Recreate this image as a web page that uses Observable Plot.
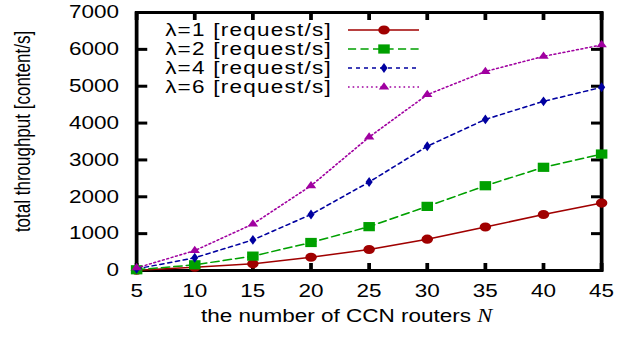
<!DOCTYPE html>
<html><head><meta charset="utf-8">
<script src="https://cdn.jsdelivr.net/npm/d3@7"></script>
<script src="https://cdn.jsdelivr.net/npm/@observablehq/plot@0.6"></script>
<style>html,body{margin:0;padding:0;background:#fff;} #chart svg{display:block;}</style>
</head><body><div id="chart"></div>
<script>
// ---- data ----
const routers = [5, 10, 15, 20, 25, 30, 35, 40, 45];
const lambda1 = [10, 90, 180, 360, 570, 850, 1180, 1520, 1830];
const lambda2 = [20, 155, 390, 760, 1190, 1740, 2300, 2800, 3160];
const lambda4 = [45, 345, 830, 1520, 2400, 3370, 4100, 4590, 4970];
const lambda6 = [70, 540, 1260, 2300, 3620, 4770, 5400, 5810, 6120];
const seriesNames = ["λ=1 [request/s]", "λ=2 [request/s]", "λ=4 [request/s]", "λ=6 [request/s]"];
const xTicks = [5, 10, 15, 20, 25, 30, 35, 40, 45];
const yTicks = [0, 1000, 2000, 3000, 4000, 5000, 6000, 7000];
const xLabel = "the number of CCN routers ";
const xLabelVar = "N";
const yLabel = "total throughput [content/s]";

// ---- styles ----
const seriesValues = [lambda1, lambda2, lambda4, lambda6];
const seriesColors = ["#a00000", "#00a000", "#0000a0", "#a000a0"];
const seriesSymbols = ["circle", "square", "diamond", "triangle"];
const d3Symbols = [d3.symbolCircle, d3.symbolSquare, d3.symbolDiamond, d3.symbolTriangle];
const seriesR = [4.6, 5.2, 3.0, 3.1];
const seriesDash = [null, "6.5,3.5", "3.2,3.2", "1.3,2.4"];

const W = 618, H = 337, SX = 1.25, W0 = W / SX;
const FONT = "'Liberation Sans', Arial, Helvetica, sans-serif";

const data = seriesValues.map((vals, i) => vals.map((v, j) => ({n: routers[j], t: v, s: seriesNames[i]})));

const marks = [
  Plot.frame({stroke: "black", strokeWidth: 3}),
  Plot.axisX({ticks: xTicks, anchor: "top", frameAnchor: "bottom", tickSize: 8, text: null, label: null, strokeWidth: 3}),
  Plot.axisX({ticks: xTicks, anchor: "bottom", frameAnchor: "top", tickSize: 8, text: null, label: null, strokeWidth: 3}),
  Plot.axisY({ticks: yTicks, anchor: "right", frameAnchor: "left", tickSize: 8, text: null, label: null, strokeWidth: 3}),
  Plot.axisY({ticks: yTicks, anchor: "left", frameAnchor: "right", tickSize: 8, text: null, label: null, strokeWidth: 3}),
  Plot.axisX({ticks: xTicks, anchor: "bottom", tickSize: 0, tickPadding: 14, label: null, fill: "black", tickFormat: d => String(d)}),
  Plot.axisY({ticks: yTicks, anchor: "left", tickSize: 0, tickPadding: 14, label: null, fill: "black", tickFormat: d => String(d)}),
  Plot.text([xLabel + xLabelVar], {frameAnchor: "bottom", dy: 51, dx: -18, fontSize: 18, fill: "black", textAnchor: "middle"}),
  Plot.text([yLabel], {frameAnchor: "left", rotate: -90, dx: -91, dy: -10, fontSize: 17, fill: "black", textAnchor: "middle"})
];
data.forEach((d, i) => {
  marks.push(Plot.line(d, {x: "n", y: "t", stroke: seriesColors[i], strokeWidth: 1.5, strokeDasharray: seriesDash[i]}));
  marks.push(Plot.dot(d, {x: "n", y: "t", symbol: seriesSymbols[i], r: seriesR[i], fill: seriesColors[i], stroke: "none"}));
});

const svg = Plot.plot({
  width: W0, height: H,
  marginLeft: 108.8, marginRight: 13.6, marginTop: 12, marginBottom: 67,
  x: {domain: [5, 45], type: "linear"},
  y: {domain: [0, 7000], type: "linear"},
  style: {fontFamily: FONT, fontSize: "18px", color: "black", background: "white"},
  marks
});

// italic N in x label
d3.select(svg).selectAll("text").each(function() {
  if (this.textContent === xLabel + xLabelVar) {
    const t = d3.select(this);
    t.text(xLabel);
    t.append("tspan").attr("font-style", "italic").attr("font-family", "'Liberation Serif', 'Times New Roman', serif").text(xLabelVar);
  }
});

// legend (inside plot, top-left)
const lg = d3.select(svg).append("g").attr("font-family", FONT).attr("font-size", 18).attr("letter-spacing", 1);
seriesNames.forEach((name, i) => {
  const y = 30 + 19 * i;
  lg.append("text").attr("x", 265.6).attr("y", y).attr("dy", "0.35em").attr("text-anchor", "end").attr("fill", "black").text(name);
  lg.append("line").attr("x1", 278.4).attr("x2", 335.2).attr("y1", y).attr("y2", y)
    .attr("stroke", seriesColors[i]).attr("stroke-width", 1.5).attr("stroke-dasharray", seriesDash[i]);
  lg.append("path").attr("transform", `translate(307.2,${y})`)
    .attr("d", d3.symbol(d3Symbols[i], seriesR[i] * seriesR[i] * Math.PI)()).attr("fill", seriesColors[i]);
});

// horizontal stretch like the reference
svg.setAttribute("viewBox", `0 0 ${W0} ${H}`);
svg.setAttribute("preserveAspectRatio", "none");
svg.setAttribute("width", W);
svg.setAttribute("height", H);
svg.style.width = W + "px";
svg.style.height = H + "px";
svg.style.maxWidth = "none";
document.getElementById("chart").appendChild(svg);
</script>
</body></html>
